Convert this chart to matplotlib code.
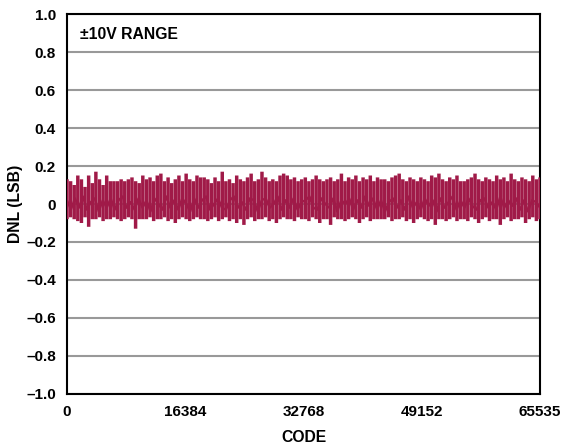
import numpy as np
import matplotlib
matplotlib.use("Agg")
from matplotlib import pyplot as plt

# DNL envelope, one entry per visible stripe (left to right)
dnl_top = [0.13, 0.12, 0.10, 0.15, 0.13, 0.09, 0.15, 0.11, 0.17, 0.13, 0.10, 0.15, 0.12, 0.12, 0.12, 0.13,
           0.12, 0.13, 0.14, 0.12, 0.11, 0.15,
           0.13, 0.14, 0.12, 0.15, 0.16, 0.12, 0.14, 0.11, 0.13, 0.15, 0.12, 0.16, 0.13, 0.12, 0.15, 0.14,
           0.14, 0.13, 0.11, 0.14, 0.12, 0.17,
           0.12, 0.13, 0.11, 0.15, 0.13, 0.12, 0.14, 0.16, 0.12, 0.13, 0.17, 0.14, 0.12, 0.13, 0.12, 0.15,
           0.16, 0.15, 0.13, 0.14, 0.12, 0.13,
           0.14, 0.12, 0.13, 0.15, 0.13, 0.12, 0.13, 0.14, 0.12, 0.13, 0.16, 0.12, 0.14, 0.13, 0.15, 0.12,
           0.14, 0.13, 0.15, 0.12, 0.14, 0.13,
           0.13, 0.12, 0.14, 0.15, 0.16, 0.13, 0.12, 0.14, 0.13, 0.12, 0.14, 0.13, 0.12, 0.15, 0.14, 0.16,
           0.13, 0.12, 0.14, 0.13, 0.15, 0.12,
           0.12, 0.13, 0.14, 0.16, 0.13, 0.12, 0.14, 0.13, 0.12, 0.15, 0.13, 0.14, 0.12, 0.16, 0.13, 0.12,
           0.14, 0.13, 0.12, 0.15, 0.13, 0.14]
dnl_bot = [-0.08, -0.07, -0.08, -0.09, -0.10, -0.07, -0.12, -0.08, -0.08, -0.07, -0.09, -0.08, -0.08, -0.07,
           -0.08, -0.09, -0.08, -0.07, -0.08, -0.13, -0.08, -0.08,
           -0.08, -0.07, -0.09, -0.08, -0.08, -0.07, -0.09, -0.08, -0.10, -0.08, -0.07, -0.08, -0.09, -0.08,
           -0.07, -0.08, -0.08, -0.09, -0.08, -0.07, -0.09, -0.08,
           -0.07, -0.09, -0.08, -0.10, -0.08, -0.11, -0.08, -0.07, -0.09, -0.08, -0.08, -0.07, -0.09, -0.08,
           -0.10, -0.08, -0.07, -0.08, -0.08, -0.09, -0.07, -0.08,
           -0.08, -0.09, -0.07, -0.08, -0.10, -0.08, -0.08, -0.11, -0.07, -0.08, -0.08, -0.09, -0.08, -0.07,
           -0.08, -0.10, -0.08, -0.07, -0.09, -0.08, -0.08, -0.08,
           -0.08, -0.07, -0.09, -0.08, -0.08, -0.07, -0.09, -0.08, -0.10, -0.08, -0.07, -0.08, -0.09, -0.08,
           -0.11, -0.08, -0.08, -0.09, -0.08, -0.07, -0.09, -0.08,
           -0.08, -0.09, -0.07, -0.08, -0.10, -0.08, -0.07, -0.09, -0.08, -0.08, -0.11, -0.08, -0.07, -0.09,
           -0.08, -0.08, -0.07, -0.10, -0.08, -0.07, -0.09, -0.08]
# noisy core around zero
dnl_mid = [0.02, -0.03, 0.03, -0.02, 0.04, -0.03, 0.01, 0.03, -0.04, 0.02, -0.02, 0.03, -0.03, 0.02, 0.04,
           -0.02, 0.01, -0.03, 0.03, -0.02, 0.02, -0.04, 0.03, 0.00, -0.03, 0.04, -0.02, 0.02, -0.03, 0.03,
           0.00, -0.04, 0.03, -0.02, 0.02, 0.04, -0.03, 0.00, 0.03, -0.02, -0.03, 0.02, 0.04, -0.02, 0.01,
           -0.03, 0.03, 0.02, -0.04, 0.02, 0.03, -0.02, 0.00, 0.04, -0.03, 0.02, -0.02, 0.03, -0.03, 0.01,
           0.02, 0.04, -0.02, -0.03, 0.03, 0.00, -0.02, 0.03, -0.04, 0.02, 0.00, 0.03, -0.03, 0.02, -0.02,
           0.04, -0.01, 0.03, -0.03, 0.02, -0.04, 0.01, 0.03, -0.02, 0.02, -0.03, 0.04, -0.02, 0.01, -0.03,
           0.03, -0.01, 0.02, -0.04, 0.03, -0.02, 0.01, 0.04, -0.03, 0.02, -0.02, 0.03, -0.01, -0.03, 0.02,
           0.03, -0.02, 0.01, -0.03, 0.04, -0.02, 0.02, -0.01, 0.03, -0.03, 0.02, -0.04, 0.02, 0.01, -0.02]
code_max = 65535
xticks = [0, 16384, 32768, 49152, 65535]
yticks = [-1.0, -0.8, -0.6, -0.4, -0.2, 0, 0.2, 0.4, 0.6, 0.8, 1.0]

col = '#A01A48'
plt.rcParams['font.family'] = ['Liberation Sans', 'DejaVu Sans']
plt.rcParams['font.weight'] = 'bold'

fig = plt.figure(figsize=(5.61, 4.46), dpi=100)
ax = fig.add_axes([0.1194, 0.1166, 0.8432, 0.852])

ax.vlines(np.linspace(0, code_max, len(dnl_top)), dnl_bot, dnl_top, color=col, linewidth=2.5,
          snap=False, zorder=3)
ax.plot(np.linspace(0, code_max, len(dnl_mid)), dnl_mid, color=col, linewidth=1.6, zorder=4)

ax.set_xlim(0, code_max)
ax.set_ylim(-1.0, 1.0)
ax.set_xticks(xticks)
ax.set_xticklabels([str(t) for t in xticks])
ax.set_yticks(yticks)
ax.set_yticklabels(['0' if t == 0 else ('%.1f' % t).replace('-', '\u2013') for t in yticks])
ax.tick_params(length=0, labelsize=11, pad=8)
for lab in ax.get_xticklabels() + ax.get_yticklabels():
    lab.set_fontweight('bold')
ax.yaxis.grid(True, color='#999999', linewidth=1.5, zorder=1)
for s in ax.spines.values():
    s.set_linewidth(1.5)

ax.text(0.027, 0.945, '\u00b110V RANGE', transform=ax.transAxes, fontsize=11.3, fontweight='bold',
        va='center', ha='left')
ax.set_xlabel('CODE', fontsize=11.3, fontweight='bold', labelpad=8)
ax.set_ylabel('DNL (LSB)', fontsize=11.3, fontweight='bold', labelpad=2)

fig.savefig('out.png', dpi=100)
